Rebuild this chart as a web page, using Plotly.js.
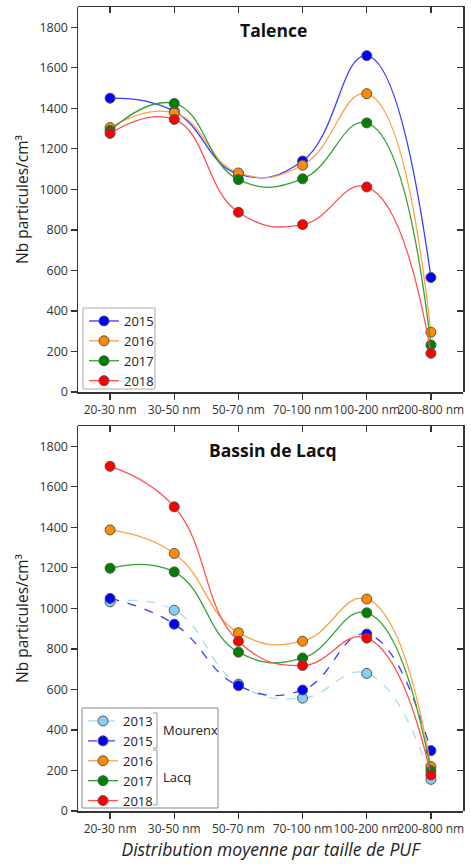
<!DOCTYPE html>
<html><head><meta charset="utf-8">
<script src="https://cdn.plot.ly/plotly-3.0.1.min.js"></script>
<style>html,body{margin:0;padding:0;background:#fff}#c{width:471px;height:864px}</style>
</head><body><div id="c"></div>
<script>
const categories = ["20-30 nm","30-50 nm","50-70 nm","70-100 nm","100-200 nm","200-800 nm"];
const yTicks = [0,200,400,600,800,1000,1200,1400,1600,1800];

// Talence
const tal2015 = [1450,1385,1075,1140,1660,565];
const tal2016 = [1305,1378,1081,1119,1472,295];
const tal2017 = [1290,1424,1048,1052,1328,232];
const tal2018 = [1276,1345,887,826,1012,191];

// Bassin de Lacq
const lacq2013 = [1032,991,626,557,679,156];
const lacq2015 = [1049,922,618,597,873,298];
const lacq2016 = [1387,1271,880,838,1046,219];
const lacq2017 = [1198,1180,784,755,978,199];
const lacq2018 = [1701,1501,838,718,853,178];

const FONT = "Open Sans, Noto Sans, sans-serif";
const C = {
  y2013:{m:'#87cefa', l:'#a8dcf5'},
  y2015:{m:'#0000ff', l:'#3a3aff'},
  y2016:{m:'#ff8c00', l:'#ffa040'},
  y2017:{m:'#008000', l:'#33a033'},
  y2018:{m:'#ff0000', l:'#ff5050'}
};
function tr(name, ys, col, xa, ya, leg, dash){
  return {x: categories.map((_,i)=>i), y: ys, name: name, type:'scatter', mode:'lines+markers',
    xaxis: xa, yaxis: ya, legend: leg,
    line:{shape:'spline', smoothing:1.3, color: col.l, width:1.3, dash: dash||'solid'},
    marker:{size:10, color: col.m, line:{color:'#555', width:1}}};
}
function dummy(xa, ya){
  return {x:[0], y:[0], xaxis:xa, yaxis:ya, type:'scatter', mode:'markers', showlegend:false,
    marker:{opacity:0, size:1}, hoverinfo:'skip'};
}
const data = [
  tr('2015', tal2015, C.y2015, 'x','y','legend'),
  tr('2016', tal2016, C.y2016, 'x','y','legend'),
  tr('2017', tal2017, C.y2017, 'x','y','legend'),
  tr('2018', tal2018, C.y2018, 'x','y','legend'),
  tr('2013', lacq2013, C.y2013, 'x2','y2','legend2','dash'),
  tr('2015', lacq2015, C.y2015, 'x2','y2','legend2','dash'),
  tr('2016', lacq2016, C.y2016, 'x2','y2','legend2'),
  tr('2017', lacq2017, C.y2017, 'x2','y2','legend2'),
  tr('2018', lacq2018, C.y2018, 'x2','y2','legend2'),
  dummy('x3','y3'), dummy('x4','y4')
];

const L=78, R=463, T=7, B=811, W=R-L, H=B-T;
const px = v => (v-L)/W;
const py = v => (B-v)/H;
const topDom = [py(392), 1], botDom = [0, py(426)];

function xax(anchor){
  return {domain:[0,1], anchor: anchor, range:[-0.5,5.5], tickmode:'array',
    tickvals: categories.map((_,i)=>i), ticktext: categories, tickangle:0,
    ticks:'outside', ticklen:6, tickwidth:1.3, tickcolor:'#333',
    showline:true, linecolor:'#333', linewidth:1.5, showgrid:false, zeroline:false,
    tickfont:{family:FONT, size:12, color:'#333'}};
}
function yax(anchor, dom){
  return {domain: dom, anchor: anchor, range:[0,1900], tickmode:'array', tickvals:yTicks,
    ticks:'outside', ticklen:6, tickwidth:1.3, tickcolor:'#333',
    showline:true, linecolor:'#333', linewidth:1.5, showgrid:false, zeroline:false,
    tickfont:{family:FONT, size:12.5, color:'#333'},
    title:{text:'Nb particules/cm³', font:{family:FONT, size:15.5, color:'#222'}, standoff:7}};
}
function xmirror(anchor){
  return {anchor: anchor, side:'top', range:[-0.5,5.5], tickmode:'array', domain:[0,1],
    tickvals: categories.map((_,i)=>i), showticklabels:false, ticks:'inside', ticklen:6, tickwidth:1.3,
    tickcolor:'#333', showline:true, linecolor:'#333', linewidth:1.5, showgrid:false, zeroline:false};
}
function ymirror(anchor, dom){
  return {anchor: anchor, side:'right', range:[0,1900], tickmode:'array', tickvals:yTicks, domain: dom,
    showticklabels:false, ticks:'inside', ticklen:6, tickwidth:1.3,
    tickcolor:'#333', showline:true, linecolor:'#333', linewidth:1.5, showgrid:false, zeroline:false};
}

const x1 = xax('y'); const x2 = xax('y2');
x2.title = {text:'<i>Distribution moyenne par taille de PUF</i>', font:{family:FONT, size:17.5, color:'#222'}, standoff:8};

const layout = {
  width:471, height:864, margin:{l:L, r:471-R, t:T, b:864-B},
  paper_bgcolor:'#fff', plot_bgcolor:'rgba(0,0,0,0)', showlegend:true,
  xaxis: x1, yaxis: yax('x', topDom),
  xaxis2: x2, yaxis2: yax('x2', botDom),
  xaxis3: xmirror('y3'), yaxis3: ymirror('x3', topDom),
  xaxis4: xmirror('y4'), yaxis4: ymirror('x4', botDom),
  legend:{x:px(84), y:py(306), xanchor:'left', yanchor:'top', bgcolor:'rgba(0,0,0,0)', borderwidth:0,
    font:{family:FONT, size:13, color:'#222'}, tracegroupgap:0, itemclick:false},
  legend2:{x:px(83), y:py(706), xanchor:'left', yanchor:'top', bgcolor:'rgba(0,0,0,0)', borderwidth:0,
    font:{family:FONT, size:13, color:'#222'}, tracegroupgap:0, itemclick:false},
  annotations:[
    {text:'<b>Talence</b>', xref:'paper', yref:'paper', x:px(273), y:py(30), xanchor:'center', yanchor:'middle', showarrow:false,
      font:{family:FONT, size:17.5, color:'#111'}},
    {text:'<b>Bassin de Lacq</b>', xref:'paper', yref:'paper', x:px(273), y:py(450), xanchor:'center', yanchor:'middle', showarrow:false,
      font:{family:FONT, size:17.5, color:'#111'}},
    {text:'Mourenx', xref:'paper', yref:'paper', x:px(161), y:py(730), xanchor:'left', yanchor:'middle', showarrow:false,
      font:{family:FONT, size:13, color:'#222'}},
    {text:'Lacq', xref:'paper', yref:'paper', x:px(161), y:py(777), xanchor:'left', yanchor:'middle', showarrow:false,
      font:{family:FONT, size:13, color:'#222'}}
  ],
  shapes:[
    {type:'rect', xref:'paper', yref:'paper', x0:px(83), x1:px(155), y0:py(308), y1:py(389), line:{color:'#aaa', width:1}},
    {type:'rect', xref:'paper', yref:'paper', x0:px(82), x1:px(218), y0:py(708), y1:py(808), line:{color:'#888', width:1}},
    {type:'path', xref:'paper', yref:'paper', path:`M ${px(153)} ${py(713)} L ${px(157)} ${py(713)} L ${px(157)} ${py(748)} L ${px(153)} ${py(748)}`, line:{color:'#999', width:1}},
    {type:'path', xref:'paper', yref:'paper', path:`M ${px(153)} ${py(750)} L ${px(157)} ${py(750)} L ${px(157)} ${py(805)} L ${px(153)} ${py(805)}`, line:{color:'#999', width:1}}
  ]
};
Plotly.newPlot('c', data, layout, {displayModeBar:false, staticPlot:true});
</script></body></html>
